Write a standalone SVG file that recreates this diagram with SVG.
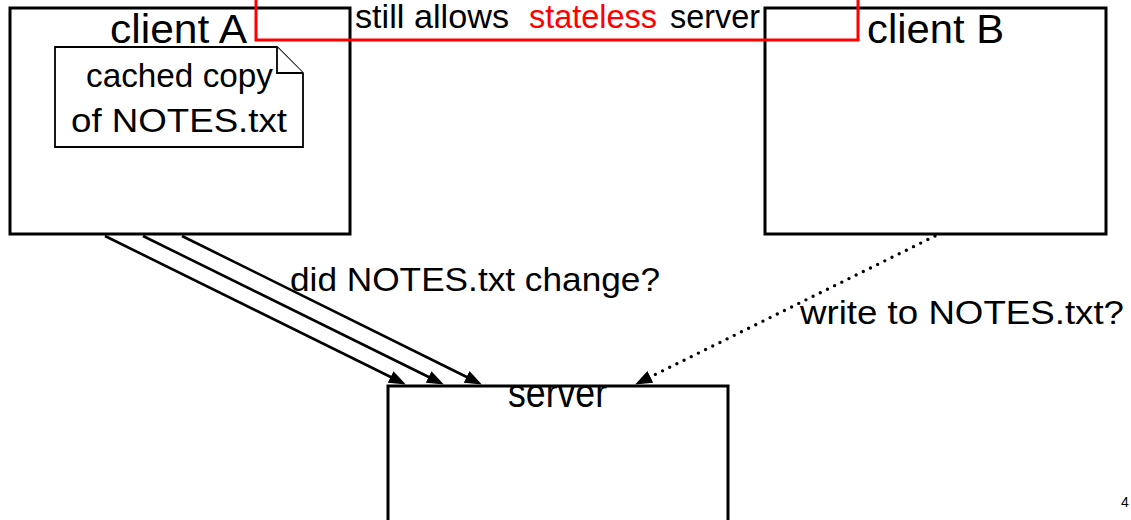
<svg xmlns="http://www.w3.org/2000/svg" width="1131" height="520" viewBox="0 0 1131 520">
  <style>
    .box { fill: #fff; stroke: #000; stroke-width: 3; }
    .note { fill: #fff; stroke: #000; stroke-width: 1.8; stroke-linejoin: miter; }
    .t { font-family: "Liberation Sans", Arial, sans-serif; fill: #000; }
    .title { font-size: 40px; }
    .lbl { font-size: 33px; }
    .conn { stroke: #000; stroke-width: 2.6; fill: none; }
    .dot { stroke: #000; stroke-width: 3.4; fill: none; stroke-dasharray: 0 8; stroke-linecap: round; }
    .red { fill: #ff0000; }
  </style>
  <defs>
    <marker id="ah" viewBox="0 0 17 13" refX="8" refY="6.5" markerWidth="17" markerHeight="13" markerUnits="userSpaceOnUse" orient="auto">
      <path d="M0,0 L17,6.5 L0,13 Z" fill="#000"/>
    </marker>
  </defs>

  <g id="clientA">
    <rect class="box" x="10" y="8" width="340" height="226"/>
    <text class="t title" x="110" y="43" textLength="137" lengthAdjust="spacingAndGlyphs">client A</text>
  </g>

  <g id="note">
    <path class="note" d="M55,47 H277 L303,73 V147 H55 Z"/>
    <path class="note" d="M277,47 V73 H303" fill="none"/>
    <text class="t lbl" x="86" y="87" textLength="187" lengthAdjust="spacingAndGlyphs">cached copy</text>
    <text class="t lbl" x="71" y="132" textLength="216" lengthAdjust="spacingAndGlyphs">of NOTES.txt</text>
  </g>

  <g id="clientB">
    <rect class="box" x="765" y="8" width="341" height="226"/>
    <text class="t title" x="867" y="43" textLength="137" lengthAdjust="spacingAndGlyphs">client B</text>
  </g>

  <g id="server">
    <rect class="box" x="388" y="386" width="340" height="160"/>
    <text class="t title" x="508" y="407" textLength="99" lengthAdjust="spacingAndGlyphs">server</text>
  </g>

  <g id="callout">
    <rect x="256" y="-10" width="602" height="50" fill="none" stroke="#ff0000" stroke-width="3"/>
    <text class="t lbl" y="28">
      <tspan x="355" textLength="154" lengthAdjust="spacingAndGlyphs">still allows</tspan>
      <tspan class="red" x="529" textLength="128" lengthAdjust="spacingAndGlyphs">stateless</tspan>
      <tspan x="670" textLength="90" lengthAdjust="spacingAndGlyphs">server</tspan>
    </text>
  </g>

  <g id="connectors">
    <line class="conn" x1="105" y1="236" x2="397.8" y2="380.5" marker-end="url(#ah)"/>
    <line class="conn" x1="143" y1="236" x2="435.8" y2="380.5" marker-end="url(#ah)"/>
    <line class="conn" x1="182" y1="236" x2="473.8" y2="380.5" marker-end="url(#ah)"/>
    <line class="dot" x1="935" y1="236" x2="643.2" y2="380.4" marker-end="url(#ah)"/>
    <text class="t lbl" x="290" y="291" textLength="370" lengthAdjust="spacingAndGlyphs">did NOTES.txt change?</text>
    <text class="t lbl" x="800" y="324" textLength="324" lengthAdjust="spacingAndGlyphs">write to NOTES.txt?</text>
  </g>

  <text class="t" x="1121" y="507" font-size="14" fill="#444">4</text>
</svg>
